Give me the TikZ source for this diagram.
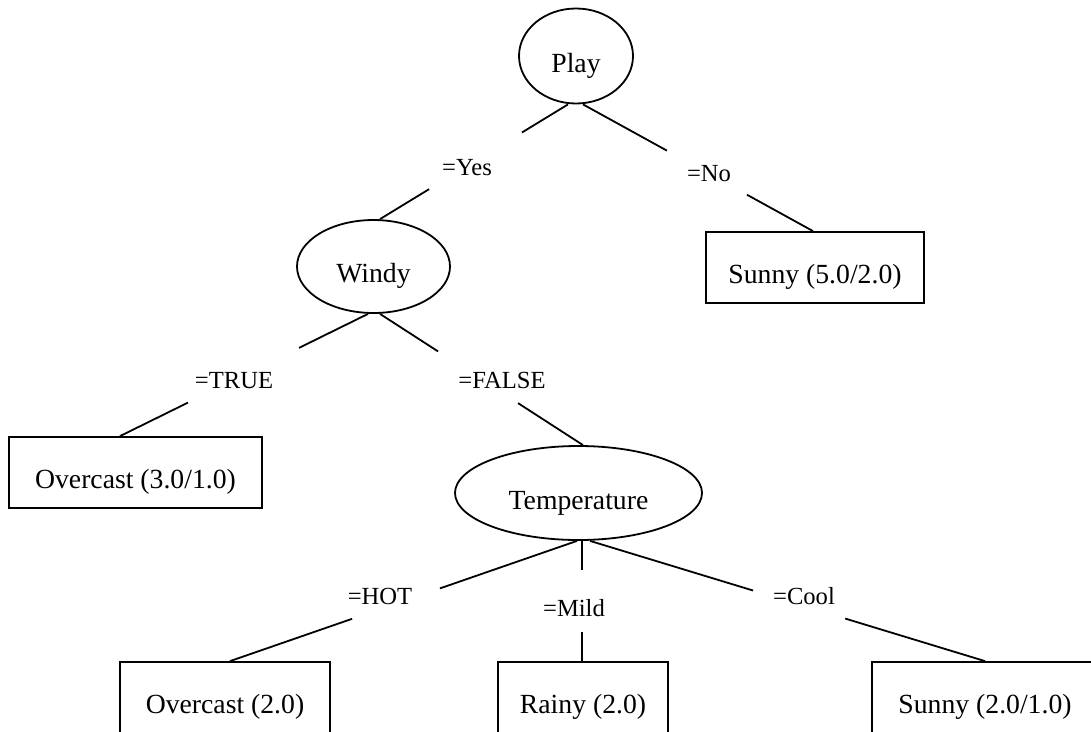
\documentclass[tikz,border=0pt]{standalone}
\usepackage{fontspec}
\setmainfont{Liberation Serif}
\usetikzlibrary{shapes.geometric,calc}

% connector split in two pieces, leaving room for its value label
\newcommand{\splitedge}[4]{%
  \draw (#1) -- ($(#1)!#3!(#2)$);
  \draw ($(#1)!#4!(#2)$) -- (#2);}

\begin{document}
\begin{tikzpicture}[x=1pt,y=-1pt,line width=1.8pt,
  attr/.style={ellipse,draw,inner sep=0pt,text height=32pt,text depth=0pt,
    font=\fontsize{27.7}{33}\selectfont},
  leaf/.style={rectangle,draw,inner xsep=0pt,inner ysep=0pt,
    text height=51pt,text depth=20pt,font=\fontsize{27.7}{33}\selectfont},
  val/.style={anchor=base,inner sep=0pt,font=\fontsize{24.6}{30}\selectfont}]

\useasboundingbox (0,0) rectangle (1091,731);
\clip (0,0) rectangle (1091,731);

% attribute tests
\node[attr,minimum width=114pt,minimum height=95pt] (play)  at (576,56)      {Play};
\node[attr,minimum width=153pt,minimum height=93pt] (windy) at (373.5,266.5) {Windy};
\node[attr,minimum width=247pt,minimum height=94pt] (temp)  at (578.5,493)   {Temperature};

% leaves
\node[leaf,minimum width=218pt] (sunnyA) at (815,267.5)   {Sunny (5.0/2.0)};
\node[leaf,minimum width=253pt] (overA)  at (135.5,472.5) {Overcast (3.0/1.0)};
\node[leaf,minimum width=210pt] (overB)  at (225,697.5)   {Overcast (2.0)};
\node[leaf,minimum width=170pt] (rainy)  at (583,697.5)   {Rainy (2.0)};
\node[leaf,minimum width=226pt] (sunnyB) at (985,697.5)   {Sunny (2.0/1.0)};

% connector end points
\coordinate (pl)  at ($(play.south)+(-8,0)$);
\coordinate (pr)  at ($(play.south)+(7,0)$);
\coordinate (wt)  at ($(windy.north)+(6.5,0)$);
\coordinate (wl)  at ($(windy.south)+(-5.5,0)$);
\coordinate (wr)  at ($(windy.south)+(6.5,0)$);
\coordinate (tt)  at ($(temp.north)+(4.5,0)$);
\coordinate (tl)  at ($(temp.south)+(-1.5,0)$);
\coordinate (tm)  at ($(temp.south)+(3.5,0)$);
\coordinate (tr)  at ($(temp.south)+(11.5,0)$);
\coordinate (sAt) at ($(sunnyA.north)+(-2,0)$);
\coordinate (oAt) at ($(overA.north)+(-15.5,0)$);
\coordinate (oBt) at ($(overB.north)+(5,0)$);
\coordinate (rt)  at ($(rainy.north)+(-1,0)$);
\coordinate (sBt) at ($(sunnyB.north)+(0,0)$);

% branches
\splitedge{pl}{wt}{0.245}{0.739}
\splitedge{pr}{sAt}{0.365}{0.713}
\splitedge{wl}{oAt}{0.278}{0.726}
\splitedge{wr}{tt}{0.286}{0.680}
\splitedge{tl}{oBt}{0.395}{0.648}
\splitedge{tm}{rt}{0.246}{0.754}
\splitedge{tr}{sBt}{0.413}{0.646}

% branch values
\node[val] (yes)   at (467,175) {=Yes};
\node[val] (no)    at (709,181) {=No};
\node[val] (true)  at (234,388) {=TRUE};
\node[val] (false) at (502,388) {=FALSE};
\node[val] (hot)   at (380,604) {=HOT};
\node[val] (mild)  at (574,616) {=Mild};
\node[val] (cool)  at (804,604) {=Cool};

\end{tikzpicture}
\end{document}
